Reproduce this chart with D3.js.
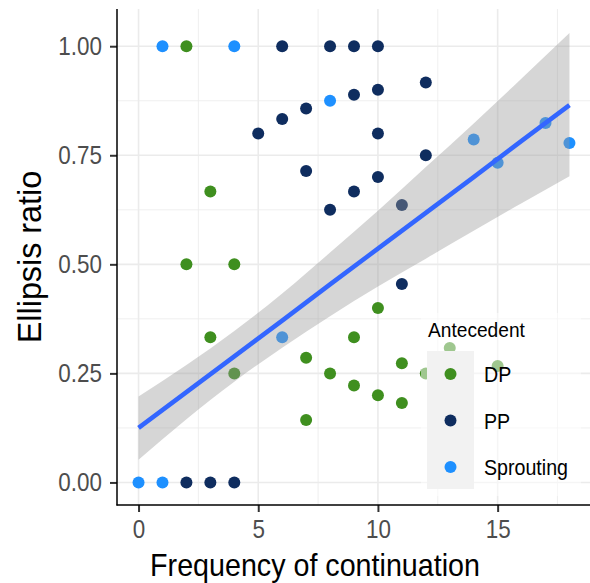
<!DOCTYPE html>
<html lang="en">
<head>
    <meta charset="UTF-8">
    <title>Ellipsis ratio vs frequency of continuation</title>
    <style>
        body { margin: 0; background: #fff; }
        text { font-family: "Liberation Sans", Arial, sans-serif; }
    </style>
</head>
<body>
    <div id="chart"></div>

    <script src="https://d3js.org/d3.v7.min.js"></script>
    <script>
        const width = 590;
        const height = 583;

        // points, per antecedent type
        const dpFreq  = [2, 3, 2, 4, 3, 9, 10, 4, 7, 8, 9, 10, 11, 11, 7, 12, 13, 15];
        const dpRatio = [1, 0.667, 0.5, 0.5, 0.333, 0.333, 0.4, 0.25, 0.286, 0.25, 0.222, 0.2, 0.273, 0.182, 0.143, 0.25, 0.308, 0.267];

        const ppFreq  = [6, 8, 9, 10, 12, 10, 9, 7, 6, 5, 10, 12, 11, 7, 9, 10, 8, 11, 2, 3, 4];
        const ppRatio = [1, 1, 1, 1, 0.917, 0.9, 0.889, 0.857, 0.833, 0.8, 0.8, 0.75, 0.636, 0.714, 0.667, 0.7, 0.625, 0.455, 0, 0, 0];

        const sproutFreq  = [1, 4, 8, 6, 14, 15, 17, 18, 0, 1];
        const sproutRatio = [1, 1, 0.875, 0.333, 0.786, 0.733, 0.824, 0.778, 0, 0];

        // linear fit and its confidence band
        const fitX     = [0, 2, 4, 6, 8, 10, 12, 14, 16, 18];
        const fitY     = [0.125, 0.207, 0.289, 0.371, 0.454, 0.536, 0.618, 0.700, 0.783, 0.865];
        const bandLow  = [0.052, 0.145, 0.231, 0.309, 0.381, 0.449, 0.513, 0.577, 0.640, 0.702];
        const bandHigh = [0.197, 0.269, 0.347, 0.433, 0.527, 0.623, 0.723, 0.823, 0.926, 1.030];

        const groups = ["DP", "PP", "Sprouting"];
        const colors = ["#3F8F1F", "#0F2D5F", "#1E90FF"];

        const xTicks = [0, 5, 10, 15];
        const xMinor = [2.5, 7.5, 12.5, 17.5];
        const yTicks = [0, 0.25, 0.5, 0.75, 1];
        const yMinor = [0.125, 0.375, 0.625, 0.875];

        const points = [];
        dpFreq.forEach((f, i) => points.push({ f: f, r: dpRatio[i], g: "DP" }));
        ppFreq.forEach((f, i) => points.push({ f: f, r: ppRatio[i], g: "PP" }));
        sproutFreq.forEach((f, i) => points.push({ f: f, r: sproutRatio[i], g: "Sprouting" }));

        const color = d3.scaleOrdinal().domain(groups).range(colors);

        const pLeft = 117, pRight = 591, pTop = 9, pBottom = 505;
        const x = d3.scaleLinear().domain([-0.9, 18.9]).range([pLeft, pRight]);
        const y = d3.scaleLinear().domain([-0.0517, 1.0853]).range([pBottom, pTop]);

        const svg = d3.select("#chart").append("svg")
            .attr("width", width)
            .attr("height", height);

        // the original font is a bit narrower than Liberation Sans: squeeze text horizontally
        function squeeze(sel, sx) {
            sel.each(function() {
                const t = d3.select(this);
                const tx = +t.attr("x") || 0, ty = +t.attr("y") || 0;
                t.attr("x", 0).attr("y", 0)
                    .attr("transform", `translate(${tx},${ty}) scale(${sx},1)`);
            });
        }

        // grid
        const grid = svg.append("g");
        grid.selectAll("line.ymin").data(yMinor).enter().append("line")
            .attr("x1", pLeft).attr("x2", pRight)
            .attr("y1", d => y(d)).attr("y2", d => y(d))
            .attr("stroke", "#EBEBEB").attr("stroke-width", 0.8);
        grid.selectAll("line.xmin").data(xMinor).enter().append("line")
            .attr("y1", pTop).attr("y2", pBottom)
            .attr("x1", d => x(d)).attr("x2", d => x(d))
            .attr("stroke", "#EBEBEB").attr("stroke-width", 0.8);
        grid.selectAll("line.ymaj").data(yTicks).enter().append("line")
            .attr("x1", pLeft).attr("x2", pRight)
            .attr("y1", d => y(d)).attr("y2", d => y(d))
            .attr("stroke", "#EBEBEB").attr("stroke-width", 1.6);
        grid.selectAll("line.xmaj").data(xTicks).enter().append("line")
            .attr("y1", pTop).attr("y2", pBottom)
            .attr("x1", d => x(d)).attr("x2", d => x(d))
            .attr("stroke", "#EBEBEB").attr("stroke-width", 1.6);

        // points
        svg.append("g").selectAll("circle")
            .data(points).enter().append("circle")
            .attr("cx", d => x(d.f))
            .attr("cy", d => y(d.r))
            .attr("r", 6)
            .attr("fill", d => color(d.g));

        // confidence band and fit line
        const band = fitX.map((v, i) => ({ x: v, lo: bandLow[i], hi: bandHigh[i], fit: fitY[i] }));
        svg.append("path")
            .datum(band)
            .attr("d", d3.area().x(d => x(d.x)).y0(d => y(d.lo)).y1(d => y(d.hi)).curve(d3.curveMonotoneX))
            .attr("fill", "#999999")
            .attr("fill-opacity", 0.4);
        svg.append("path")
            .datum(band)
            .attr("d", d3.line().x(d => x(d.x)).y(d => y(d.fit)))
            .attr("fill", "none")
            .attr("stroke", "#3366FF")
            .attr("stroke-width", 4.5);

        // axes
        const xAxis = svg.append("g")
            .attr("transform", `translate(0,${pBottom})`)
            .call(d3.axisBottom(x).tickValues(xTicks).tickSize(7).tickPadding(8));
        const yAxis = svg.append("g")
            .attr("transform", `translate(${pLeft},0)`)
            .call(d3.axisLeft(y).tickValues(yTicks).tickFormat(d3.format(".2f")).tickSize(7).tickPadding(8));

        [xAxis, yAxis].forEach(a => {
            a.select(".domain").remove();
            a.selectAll(".tick line").attr("stroke", "#333333").attr("stroke-width", 2);
            a.selectAll(".tick text")
                .attr("fill", "#4D4D4D")
                .style("font-size", "25.5px")
                .style("font-family", "'Liberation Sans', Arial, sans-serif")
                .call(squeeze, 0.88);
        });

        svg.append("line")
            .attr("x1", pLeft).attr("x2", pLeft).attr("y1", pTop).attr("y2", pBottom + 0.5)
            .attr("stroke", "#000").attr("stroke-width", 1.5);
        svg.append("line")
            .attr("x1", pLeft - 0.5).attr("x2", pRight).attr("y1", pBottom).attr("y2", pBottom)
            .attr("stroke", "#000").attr("stroke-width", 1.5);

        // axis titles
        svg.append("text")
            .attr("x", 315).attr("y", 576)
            .attr("text-anchor", "middle")
            .style("font-size", "31.5px")
            .text("Frequency of continuation")
            .call(squeeze, 0.91);
        svg.append("text")
            .attr("transform", `translate(41,${(pTop + pBottom) / 2}) rotate(-90) scale(0.98,1)`)
            .attr("text-anchor", "middle")
            .style("font-size", "33px")
            .text("Ellipsis ratio");

        // legend (translucent box inside the panel)
        const legend = svg.append("g");
        legend.append("rect")
            .attr("x", 421).attr("y", 313).attr("width", 160).attr("height", 183)
            .attr("fill", "#fff").attr("fill-opacity", 0.5);
        legend.append("text")
            .attr("x", 428).attr("y", 337)
            .style("font-size", "20.5px")
            .text("Antecedent")
            .call(squeeze, 0.935);
        legend.append("rect")
            .attr("x", 427).attr("y", 351).attr("width", 47).attr("height", 138)
            .attr("fill", "#F2F2F2");
        const keys = legend.selectAll("g.key").data(groups).enter().append("g")
            .attr("transform", (d, i) => `translate(0,${374 + i * 46.5})`);
        keys.append("circle")
            .attr("cx", 450.5).attr("cy", 0).attr("r", 6)
            .attr("fill", d => color(d));
        keys.append("text")
            .attr("x", 484).attr("y", 8)
            .style("font-size", "21.4px")
            .text(d => d)
            .call(squeeze, 0.917);
    </script>
</body>
</html>
